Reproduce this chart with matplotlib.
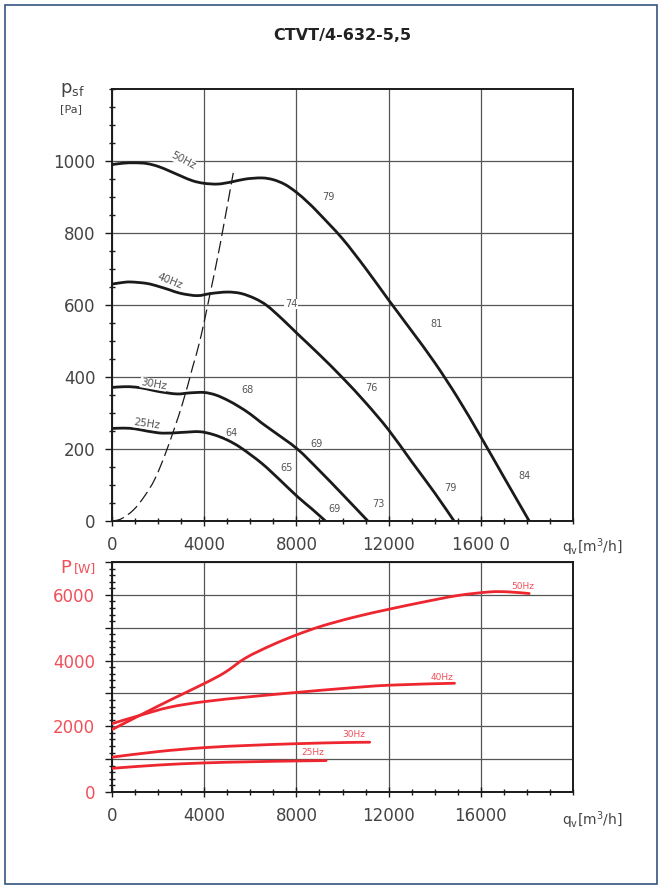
import numpy as np
import matplotlib.pyplot as plt
from matplotlib.ticker import MultipleLocator
from matplotlib.patches import Rectangle, PathPatch
from matplotlib.path import Path

# pressure curves p_sf [Pa] vs q_v [m3/h]
q50 = [0, 500, 1000, 1500, 2000, 2500, 3000, 3500, 4000, 4600, 5200, 5800, 6500, 7000, 7500,
       8000, 8500, 9000, 10000, 11000, 12000, 13000, 14000, 15000, 16000, 17000, 18100]
p50 = [990, 994, 995, 993, 985, 972, 958, 945, 938, 936, 942, 950, 953, 948, 935,
       913, 885, 853, 784, 702, 614, 528, 440, 342, 234, 122, 0]

q40 = [0, 400, 800, 1500, 2000, 2500, 3000, 3700, 4300, 5000, 5600, 6200, 6730, 7400,
       8030, 9000, 10000, 11000, 12000, 13000, 14000, 14840]
p40 = [658, 662, 664, 660, 652, 642, 632, 626, 632, 636, 632, 618, 598, 560,
       521, 462, 398, 329, 253, 165, 78, 0]

q30 = [0, 500, 1000, 1500, 2000, 2800, 3400, 4000, 4500, 5000, 5500, 6000, 6500, 7000,
       8040, 9000, 10000, 11100]
p30 = [371, 373, 372, 367, 360, 353, 356, 357, 350, 336, 318, 297, 272, 249,
       200, 140, 74, 0]

q25 = [0, 500, 1000, 1500, 2200, 3000, 3800, 4400, 5000, 5600, 6500, 7300, 8040, 8700, 9260]
p25 = [257, 258, 256, 250, 244, 246, 248, 240, 225, 203, 160, 113, 68, 32, 0]

# system curve (dashed)
q_sys = [0, 400, 920, 1400, 1870, 2380, 3030, 3500, 3830, 4260, 4700, 5260]
p_sys = [0, 6, 30, 68, 118, 198, 320, 428, 505, 633, 771, 967]

# power curves P [W]
qP50 = [0, 1200, 2500, 4000, 4900, 5800, 6900, 8000, 9100, 10500, 12000, 13500, 15000, 16400, 17200, 18100]
P50 = [1900, 2330, 2790, 3300, 3640, 4080, 4460, 4780, 5050, 5320, 5560, 5780, 5980, 6090, 6090, 6040]
qP40 = [0, 1200, 2500, 4000, 6000, 8000, 10000, 12000, 14860]
P40 = [2080, 2330, 2580, 2750, 2900, 3030, 3150, 3250, 3310]
qP30 = [0, 2000, 4000, 6000, 8000, 10000, 11180]
P30 = [1060, 1230, 1350, 1420, 1470, 1505, 1515]
qP25 = [0, 2000, 4000, 6000, 8000, 9290]
P25 = [720, 820, 885, 920, 945, 955]

x_ticks = [0, 4000, 8000, 12000, 16000]
x_labels_top = ['0', '4000', '8000', '12000', '1600 0']
x_labels_bot = ['0', '4000', '8000', '12000', '16000']
p_ticks = [0, 200, 400, 600, 800, 1000]
P_ticks = [0, 1000, 2000, 3000, 4000, 5000, 6000, 7000]
P_labels = ['0', '', '2000', '', '4000', '', '6000', '']

# sound levels [dB(A)] along the curves
db_labels = [('79', 9100, 900), ('74', 7500, 603), ('81', 13800, 548), ('76', 11000, 370),
             ('68', 5600, 365), ('69', 8600, 215), ('64', 4900, 245), ('65', 7300, 147),
             ('69', 9380, 33), ('73', 11300, 47), ('79', 14420, 91), ('84', 17640, 125)]

BLACK = '#1a1a1a'
GRID = '#555555'
TXT = '#444444'
RED = '#ee2630'
RED_TXT = '#f0505a'


def smooth_path(xs, ys):
    # Catmull-Rom through the read points, drawn as cubic Bezier segments
    pts = np.column_stack([xs, ys]).astype(float)
    ext = np.vstack([pts[0], pts, pts[-1]])
    verts = [pts[0]]
    codes = [Path.MOVETO]
    for i in range(1, len(ext) - 2):
        p0, p1, p2, p3 = ext[i - 1], ext[i], ext[i + 1], ext[i + 2]
        verts += [p1 + (p2 - p0) / 6, p2 - (p3 - p1) / 6, p2]
        codes += [Path.CURVE4] * 3
    return Path(verts, codes)


def draw_curve(a, xs, ys, color, lw, **kw):
    a.add_patch(PathPatch(smooth_path(xs, ys), fill=False, edgecolor=color, lw=lw, zorder=3, **kw))


plt.rcParams['font.family'] = ['DejaVu Sans']

fig = plt.figure(figsize=(6.63, 8.86), dpi=100)
fig.patches.append(Rectangle((5 / 663, 2 / 886), 652 / 663, 879 / 886, transform=fig.transFigure,
                             fill=False, edgecolor='#34557f', linewidth=1.2))

fig.text(0.516, 1 - 36 / 886, 'CTVT/4-632-5,5', ha='center', va='center',
         fontsize=11.5, fontweight='bold', color='#222222')

ax = fig.add_axes([112 / 663, 1 - 521 / 886, 461 / 663, 432 / 886])
ax2 = fig.add_axes([112 / 663, 1 - 792 / 886, 461 / 663, 230 / 886])

# ---- top: pressure ----
for q, p in [(q50, p50), (q40, p40), (q30, p30), (q25, p25)]:
    draw_curve(ax, q, p, BLACK, 2.0, capstyle='butt')
ax.add_patch(PathPatch(smooth_path(q_sys, p_sys), fill=False, edgecolor=BLACK, lw=0.9,
                       linestyle=(0, (10, 4)), zorder=3))

ax.set_xlim(0, 20000)
ax.set_ylim(0, 1200)
ax.set_xticks(x_ticks, x_labels_top)
ax.set_yticks(p_ticks, [str(v) for v in p_ticks])
ax.xaxis.set_minor_locator(MultipleLocator(1000))
ax.yaxis.set_minor_locator(MultipleLocator(50))
ax.grid(True, which='major', color=GRID, lw=0.9, zorder=1)

for txt, xq, yp in db_labels:
    ax.text(xq, yp, txt, fontsize=7, color='#555555', ha='left', va='center', zorder=4,
            bbox=dict(facecolor='white', edgecolor='none', pad=0.3))

for txt, xq, yp, rot in [('50Hz', 3100, 1000, -28), ('40Hz', 2500, 665, -22),
                          ('30Hz', 1800, 380, -10), ('25Hz', 1500, 270, -8)]:
    ax.text(xq, yp, txt, fontsize=7.5, color='#555555', ha='center', va='center',
            rotation=rot, zorder=4, bbox=dict(facecolor='white', edgecolor='none', pad=0.2))

# ---- bottom: power ----
for q, P in [(qP50, P50), (qP40, P40), (qP30, P30), (qP25, P25)]:
    draw_curve(ax2, q, P, RED, 2.0, capstyle='round')

ax2.set_xlim(0, 20000)
ax2.set_ylim(0, 7000)
ax2.set_xticks(x_ticks, x_labels_bot)
ax2.set_yticks(P_ticks, P_labels)
ax2.xaxis.set_minor_locator(MultipleLocator(1000))
ax2.yaxis.set_minor_locator(MultipleLocator(200))
ax2.grid(True, which='major', color=GRID, lw=0.9, zorder=1)

for txt, xq, yP in [('50Hz', 17800, 6250), ('40Hz', 14300, 3500), ('30Hz', 10500, 1740), ('25Hz', 8700, 1200)]:
    ax2.text(xq, yP, txt, fontsize=6.5, color=RED_TXT, ha='center', va='center', zorder=4)

for a in (ax, ax2):
    for s in a.spines.values():
        s.set_linewidth(1.4)
        s.set_color(BLACK)
    a.tick_params(which='major', direction='out', length=5, width=1.0, color=BLACK,
                  labelsize=12, labelcolor=TXT, pad=7)
    a.tick_params(which='minor', direction='inout', length=5, width=1.0, color=BLACK)
    a.tick_params(axis='x', which='major', direction='inout', length=7)

ax2.tick_params(axis='y', which='major', labelcolor=RED_TXT)

# axis titles
fig.text(60 / 663, 1 - 90 / 886, r'$\mathregular{p_{sf}}$', fontsize=13, color=TXT, ha='left', va='center')
fig.text(60 / 663, 1 - 109 / 886, '[Pa]', fontsize=8, color=TXT, ha='left', va='center')
for yy in (547, 820):
    fig.text(562 / 663, 1 - yy / 886, r'$\mathregular{q_v}$[m$^\mathregular{3}$/h]', fontsize=10,
             color=TXT, ha='left', va='center')
fig.text(60 / 663, 1 - 568 / 886, 'P', fontsize=13, color=RED_TXT, ha='left', va='center')
fig.text(74 / 663, 1 - 569 / 886, '[W]', fontsize=9, color=RED_TXT, ha='left', va='center')

fig.savefig('out.png', dpi=100)
